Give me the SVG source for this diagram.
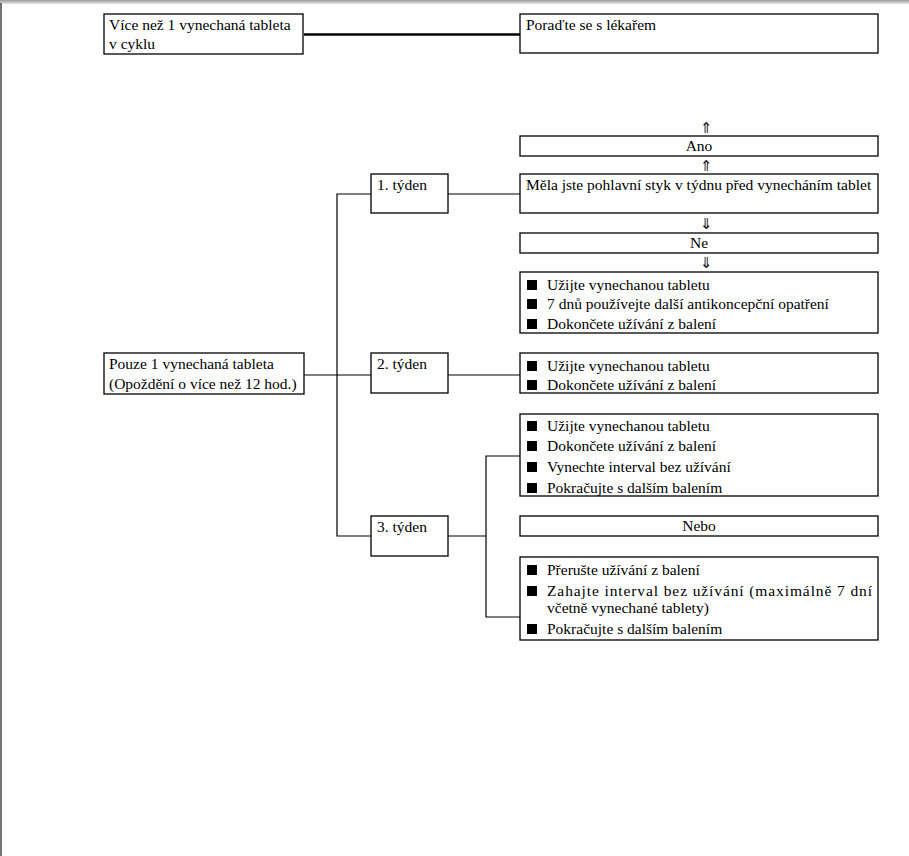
<svg xmlns="http://www.w3.org/2000/svg" width="909" height="856" viewBox="0 0 909 856">
<defs>
<linearGradient id="topband" x1="0" y1="0" x2="0" y2="1">
<stop offset="0" stop-color="#9a9a9a"/>
<stop offset="1" stop-color="#e6e6e6"/>
</linearGradient>
</defs>
<style>
.box{fill:#fff;stroke:#000;stroke-width:1.3}
.t{font-family:"Liberation Serif","Times New Roman",serif;font-size:15.5px;fill:#000}
.c{text-anchor:middle}
.arr{font-family:"DejaVu Sans",sans-serif;font-size:15px;fill:#111;text-anchor:middle}
.ln{fill:none;stroke:#000;stroke-width:1.2}
.bl{fill:#000}
</style>
<rect x="0" y="0" width="909" height="856" fill="#fff"/>
<rect x="0" y="0" width="909" height="4" fill="url(#topband)"/>
<line x1="1" y1="3" x2="1" y2="856" stroke="#444" stroke-width="1.5"/>

<g id="connectors">
<line x1="304" y1="34.5" x2="520" y2="34.5" stroke="#000" stroke-width="2.4"/>
<polyline class="ln" points="371,194 337,194 337,536 371,536"/>
<line class="ln" x1="448" y1="194" x2="520" y2="194"/>
<line class="ln" x1="304" y1="375" x2="371" y2="375"/>
<line class="ln" x1="448" y1="375" x2="520" y2="375"/>
<line class="ln" x1="448" y1="536" x2="486" y2="536"/>
<polyline class="ln" points="520,456 486,456 486,617 520,617"/>
<text class="arr" x="706" y="133">⇑</text>
<text class="arr" x="706" y="171">⇑</text>
<text class="arr" x="706" y="229">⇓</text>
<text class="arr" x="706" y="268">⇓</text>
</g>

<g id="n-vice">
<rect class="box" x="104" y="14" width="199" height="40"/>
<text class="t" x="109" y="30">Více než 1 vynechaná tableta</text>
<text class="t" x="109" y="49">v cyklu</text>
</g>
<g id="n-poradte">
<rect class="box" x="520" y="14" width="358" height="39"/>
<text class="t" x="526" y="30">Poraďte se s lékařem</text>
</g>
<g id="n-ano">
<rect class="box" x="520" y="136" width="358" height="20"/>
<text class="t c" x="699" y="151">Ano</text>
</g>
<g id="n-mela">
<rect class="box" x="520" y="174" width="358" height="39"/>
<text class="t" x="526" y="190">Měla jste pohlavní styk v týdnu před vynecháním tablet</text>
</g>
<g id="n-ne">
<rect class="box" x="520" y="233" width="358" height="20"/>
<text class="t c" x="699" y="248">Ne</text>
</g>
<g id="n-list1">
<rect class="box" x="520" y="272" width="358" height="61"/>
<rect class="bl" x="527" y="280" width="10" height="10"/>
<text class="t" x="547" y="290">Užijte vynechanou tabletu</text>
<rect class="bl" x="527" y="299" width="10" height="10"/>
<text class="t" x="547" y="309">7 dnů používejte další antikoncepční opatření</text>
<rect class="bl" x="527" y="319" width="10" height="10"/>
<text class="t" x="547" y="329">Dokončete užívání z balení</text>
</g>
<g id="n-pouze">
<rect class="box" x="104" y="353" width="200" height="41"/>
<text class="t" x="109" y="369">Pouze 1 vynechaná tableta</text>
<text class="t" x="109" y="389">(Opoždění o více než 12 hod.)</text>
</g>
<g id="n-t1">
<rect class="box" x="371" y="174" width="77" height="39"/>
<text class="t" x="377" y="190">1. týden</text>
</g>
<g id="n-t2">
<rect class="box" x="371" y="353" width="77" height="40"/>
<text class="t" x="377" y="369">2. týden</text>
</g>
<g id="n-list2">
<rect class="box" x="520" y="353" width="358" height="40"/>
<rect class="bl" x="527" y="361" width="10" height="10"/>
<text class="t" x="547" y="371">Užijte vynechanou tabletu</text>
<rect class="bl" x="527" y="380" width="10" height="10"/>
<text class="t" x="547" y="390">Dokončete užívání z balení</text>
</g>
<g id="n-t3">
<rect class="box" x="371" y="516" width="77" height="40"/>
<text class="t" x="377" y="532">3. týden</text>
</g>
<g id="n-list3">
<rect class="box" x="520" y="414" width="358" height="82"/>
<rect class="bl" x="527" y="421" width="10" height="10"/>
<text class="t" x="547" y="431">Užijte vynechanou tabletu</text>
<rect class="bl" x="527" y="441" width="10" height="10"/>
<text class="t" x="547" y="451">Dokončete užívání z balení</text>
<rect class="bl" x="527" y="462" width="10" height="10"/>
<text class="t" x="547" y="472">Vynechte interval bez užívání</text>
<rect class="bl" x="527" y="483" width="10" height="10"/>
<text class="t" x="547" y="493">Pokračujte s dalším balením</text>
</g>
<g id="n-nebo">
<rect class="box" x="520" y="516" width="358" height="20"/>
<text class="t c" x="699" y="531">Nebo</text>
</g>
<g id="n-list4">
<rect class="box" x="520" y="557" width="358" height="83"/>
<rect class="bl" x="527" y="565" width="10" height="10"/>
<text class="t" x="547" y="575">Přerušte užívání z balení</text>
<rect class="bl" x="527" y="586" width="10" height="10"/>
<text class="t" x="547" y="596" textLength="325" lengthAdjust="spacing">Zahajte interval bez užívání (maximálně 7 dní</text>
<text class="t" x="547" y="613">včetně vynechané tablety)</text>
<rect class="bl" x="527" y="624" width="10" height="10"/>
<text class="t" x="547" y="634">Pokračujte s dalším balením</text>
</g>
</svg>
